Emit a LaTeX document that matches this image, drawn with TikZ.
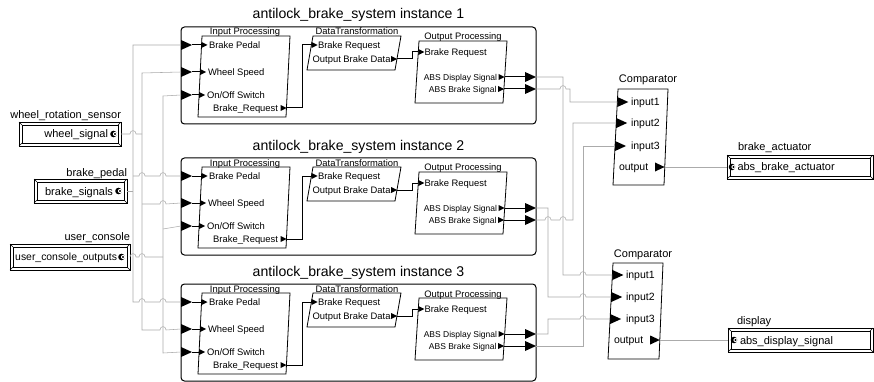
\documentclass[tikz,border=0pt]{standalone}
\usepackage{fontspec}
\setmainfont{Liberation Sans}
\usetikzlibrary{arrows.meta}

% horizontal wire hopping over a vertical one at (#1,#2)
\newcommand\hop[2]{-- ({#1-3},{#2}) .. controls ({#1-3},{#2-4.5}) and ({#1+3},{#2-4.5}) .. ({#1+3},{#2})}
% large port triangle, base at x=#1, pointing right
\newcommand\bigtri[2]{\fill (#1,{#2-5}) -- ({#1+11},{#2}) -- (#1,{#2+5}) -- cycle;}
% small port triangle, base at x=#1, pointing right
\newcommand\smalltri[2]{\fill (#1,{#2-3}) -- ({#1+6},{#2}) -- (#1,{#2+3}) -- cycle;}
% data port glyph
\newcommand\portsym[2]{\fill (#1,#2) circle[radius=3.3pt];
  \fill[white] ({#1+1.5},#2) circle[radius=2.1pt];
  \fill ({#1+1.5},#2) circle[radius=1.1pt];}
% bevelled interface frame: name, x1, y1, x2, y2
\newcommand\bevelbox[5]{%
  \draw[line width=0.7pt] (#2,#3) rectangle (#4,#5);
  \draw[line width=0.6pt] ({#2+3},{#3+3}) rectangle ({#4-3},{#5-3});
  \draw[line width=0.4pt] (#2,#3) -- ({#2+3},{#3+3}) (#4,#3) -- ({#4-3},{#3+3})
     (#2,#5) -- ({#2+3},{#5-3}) (#4,#5) -- ({#4-3},{#5-3});
  \coordinate (#1-w) at (#2,{(#3+#5)/2});
  \coordinate (#1-e) at (#4,{(#3+#5)/2});
}

\tikzset{
  every node/.style={inner sep=0pt, outer sep=0pt},
  frame/.style={draw, line width=1pt, rounded corners=3.5pt},
  blk/.style={draw, line width=0.8pt},
  wire/.style={draw=black!33, line width=0.55pt},
  bwire/.style={draw, line width=1pt},
  title/.style={font=\fontsize{14.1}{16}\selectfont},
  blabel/.style={font=\fontsize{9.4}{10}\selectfont, anchor=base},
  plab/.style={font=\fontsize{9.4}{10}\selectfont},
  slab/.style={font=\fontsize{8.5}{9}\selectfont},
  clab/.style={font=\fontsize{10.5}{12}\selectfont},
  ctitle/.style={font=\fontsize{11}{13}\selectfont, anchor=base},
  ilab/.style={font=\fontsize{11}{13}\selectfont},
}

\begin{document}
\begin{tikzpicture}[x=1pt, y=-1pt]
\useasboundingbox (0,0) rectangle (874,382);

% ---------- the three redundant ABS instances ----------
\foreach \i/\T in {1/27,2/158,3/284}{
  \node[frame, anchor=north west, minimum width=355pt, minimum height=97pt] (abs\i) at (181,\T) {};
  \node[title, anchor=base] (abs\i-name) at (358.5,{\T-8}) {antilock\_brake\_system instance \i};

  % Input Processing
  \draw[blk] (202,{\T+9}) -- (290,{\T+9}) -- (286,{\T+90}) -- (198,{\T+90}) -- cycle;
  \node[blabel] (ip\i-name) at (245,{\T+8}) {Input Processing};
  \node[plab, anchor=base west] (ip\i-l1) at (209,{\T+21.3}) {Brake Pedal};
  \node[plab, anchor=base west] (ip\i-l2) at (208,{\T+48.3}) {Wheel Speed};
  \node[plab, anchor=base west] (ip\i-l3) at (207,{\T+71.3}) {On/Off Switch};
  \node[plab, anchor=base east] (ip\i-l4) at (278,{\T+84.3}) {Brake\_Request};

  % DataTransformation
  \draw[blk] (313,{\T+9}) -- (401,{\T+9}) -- (395,{\T+43}) -- (307,{\T+43}) -- cycle;
  \node[blabel] (dt\i-name) at (357,{\T+8}) {DataTransformation};
  \node[plab, anchor=base west] (dt\i-l1) at (318,{\T+21.3}) {Brake Request};
  \node[plab, anchor=base east] (dt\i-l2) at (390.5,{\T+35.3}) {Output Brake Data};

  % Output Processing
  \draw[blk] (419,{\T+14}) -- (507,{\T+14}) -- (503,{\T+76}) -- (415,{\T+76}) -- cycle;
  \node[blabel] (op\i-name) at (463,{\T+13}) {Output Processing};
  \node[plab, anchor=base west] (op\i-l1) at (424.5,{\T+28.3}) {Brake Request};
  \node[slab, anchor=base east] (op\i-l2) at (497,{\T+53.1}) {ABS Display Signal};
  \node[slab, anchor=base east] (op\i-l3) at (496.5,{\T+65.1}) {ABS Brake Signal};

  % external ports of the instance
  \coordinate (abs\i-bp) at (181,{\T+18});
  \coordinate (abs\i-ws) at (181,{\T+45});
  \coordinate (abs\i-oo) at (181,{\T+68});
  \coordinate (abs\i-bpt) at (192,{\T+18});
  \coordinate (abs\i-wst) at (192,{\T+45});
  \coordinate (abs\i-oot) at (192,{\T+68});
  \bigtri{181}{\T+18}
  \bigtri{181}{\T+45}
  \bigtri{181}{\T+68}
  \coordinate (abs\i-dsb) at (525,{\T+50});
  \coordinate (abs\i-bsb) at (525,{\T+62});
  \coordinate (abs\i-dso) at (536,{\T+50});
  \coordinate (abs\i-bso) at (536,{\T+62});
  \bigtri{525}{\T+50}
  \bigtri{525}{\T+62}

  % block ports
  \coordinate (ip\i-bp) at (201.5,{\T+18});
  \coordinate (ip\i-ws) at (200.2,{\T+45});
  \coordinate (ip\i-oo) at (199.1,{\T+68});
  \coordinate (ip\i-br) at (286.5,{\T+81});
  \coordinate (dt\i-br) at (311.5,{\T+18});
  \coordinate (dt\i-ob) at (397,{\T+32});
  \coordinate (op\i-br) at (418.3,{\T+25});
  \coordinate (op\i-ds) at (504.5,{\T+50});
  \coordinate (op\i-bs) at (504,{\T+62});
  \smalltri{201.5}{\T+18}
  \smalltri{200.2}{\T+45}
  \smalltri{199.1}{\T+68}
  \smalltri{280.5}{\T+81}
  \smalltri{311.5}{\T+18}
  \smalltri{391}{\T+32}
  \smalltri{418.3}{\T+25}
  \smalltri{498.5}{\T+50}
  \smalltri{498}{\T+62}

  % internal connections
  \draw[bwire] (abs\i-bpt) -- (ip\i-bp);
  \draw[bwire] (abs\i-wst) -- (ip\i-ws);
  \draw[bwire] (abs\i-oot) -- (ip\i-oo);
  \draw[bwire] (ip\i-br) -- (302,{\T+81}) -- (302,{\T+18}) -- (dt\i-br);
  \draw[bwire] (dt\i-ob) -- (412,{\T+32}) -- (412,{\T+25}) -- (op\i-br);
  \draw[bwire] (op\i-ds) -- (abs\i-dsb);
  \draw[bwire] (op\i-bs) -- (abs\i-bsb);
}

% ---------- input interfaces ----------
\node[ilab, anchor=base east] (wsig-name) at (121,118.5) {wheel\_rotation\_sensor};
\bevelbox{wsig}{19}{122}{121}{146}
\node[ilab, anchor=base east] (wsig-txt) at (108,138) {wheel\_signal};
\portsym{113.5}{134}

\node[ilab, anchor=base east] (bsig-name) at (127,176.5) {brake\_pedal};
\bevelbox{bsig}{34}{179}{127}{203}
\node[ilab, anchor=base east] (bsig-txt) at (113,195) {brake\_signals};
\portsym{118.5}{191}

\node[ilab, anchor=base east] (ucon-name) at (130,240) {user\_console};
\bevelbox{ucon}{10}{244}{130}{270}
\node[ilab, font=\fontsize{10.4}{12}\selectfont, anchor=base east] (ucon-txt) at (117,260.8) {user\_console\_outputs};
\portsym{121.5}{257}

% ---------- output interfaces ----------
\node[ilab, anchor=base west] (bact-name) at (738,150) {brake\_actuator};
\bevelbox{bact}{727}{155}{873}{179}
\portsym{732}{167}
\node[ilab, anchor=base west] (bact-txt) at (737.5,171) {abs\_brake\_actuator};

\node[ilab, anchor=base west] (disp-name) at (737,324) {display};
\bevelbox{disp}{728}{328}{873}{352}
\portsym{734}{340}
\node[ilab, anchor=base west] (disp-txt) at (740,344) {abs\_display\_signal};

% ---------- comparators ----------
\draw[blk] (618,89) -- (668,89) -- (664,185) -- (613,185) -- cycle;
\node[ctitle] (c1-name) at (648,83) {Comparator};
\coordinate (c1-in1) at (617.3,102);
\coordinate (c1-in2) at (616.2,123);
\coordinate (c1-in3) at (615,146);
\bigtri{617.3}{102}
\bigtri{616.2}{123}
\bigtri{615}{146}
\node[clab, anchor=base west] (c1-l1) at (631,105.8) {input1};
\node[clab, anchor=base west] (c1-l2) at (631,126.8) {input2};
\node[clab, anchor=base west] (c1-l3) at (631,149.8) {input3};
\node[clab, anchor=base west] (c1-l4) at (619,170.8) {output};
\coordinate (c1-out) at (664.6,167);
\fill (655,162.5) -- (c1-out) -- (655,171.5) -- cycle;

\draw[blk] (613,263) -- (663,263) -- (659,359) -- (608,359) -- cycle;
\node[ctitle] (c2-name) at (643,257.5) {Comparator};
\coordinate (c2-in1) at (612.4,275);
\coordinate (c2-in2) at (611.2,297);
\coordinate (c2-in3) at (610.1,319);
\bigtri{612.4}{275}
\bigtri{611.2}{297}
\bigtri{610.1}{319}
\node[clab, anchor=base west] (c2-l1) at (626,278.8) {input1};
\node[clab, anchor=base west] (c2-l2) at (626,300.8) {input2};
\node[clab, anchor=base west] (c2-l3) at (626,322.8) {input3};
\node[clab, anchor=base west] (c2-l4) at (614,343.8) {output};
\coordinate (c2-out) at (659.8,340);
\fill (650.2,335.5) -- (c2-out) -- (650.2,344.5) -- cycle;

% ---------- sensor fan-out to the instances ----------
\draw[wire] (bsig-e) -- (133,191);
\draw[wire] (abs1-bp) -- (133,45) -- (133,302) \hop{142}{302} \hop{163}{302} -- (abs3-bp);
\draw[wire] (133,176) \hop{142}{176} \hop{163}{176} -- (abs2-bp);

\draw[wire] (wsig-e) \hop{133}{134} -- (142,134);
\draw[wire] (abs1-ws) -- (142,73) -- (142,330) \hop{163}{330} -- (abs3-ws);
\draw[wire] (142,204) \hop{163}{204} -- (abs2-ws);

\draw[wire] (ucon-e) \hop{133}{257} \hop{142}{257} -- (163,257);
\draw[wire] (abs1-oo) -- (163,96) -- (163,353) -- (abs3-oo);
\draw[wire] (163,229) -- (abs2-oo);

% ---------- instance outputs to the comparators ----------
\draw[wire] (abs1-dso) -- (563,77) -- (563,275) \hop{583}{275} -- (c2-in1);
\draw[wire] (abs1-bso) \hop{563}{89} -- (570,89) -- (570,102) -- (c1-in1);
\draw[wire] (abs2-dso) -- (548,208) -- (548,297) \hop{583}{297} -- (c2-in2);
\draw[wire] (abs2-bso) \hop{548}{220} \hop{563}{220} -- (573,220) -- (573,123) -- (c1-in2);
\draw[wire] (abs3-dso) -- (548,334) -- (548,319) \hop{583}{319} -- (c2-in3);
\draw[wire] (abs3-bso) -- (583,346) -- (583,146) -- (c1-in3);

\draw[wire] (c1-out) -- (bact-w);
\draw[wire] (c2-out) -- (disp-w);
\end{tikzpicture}
\end{document}
